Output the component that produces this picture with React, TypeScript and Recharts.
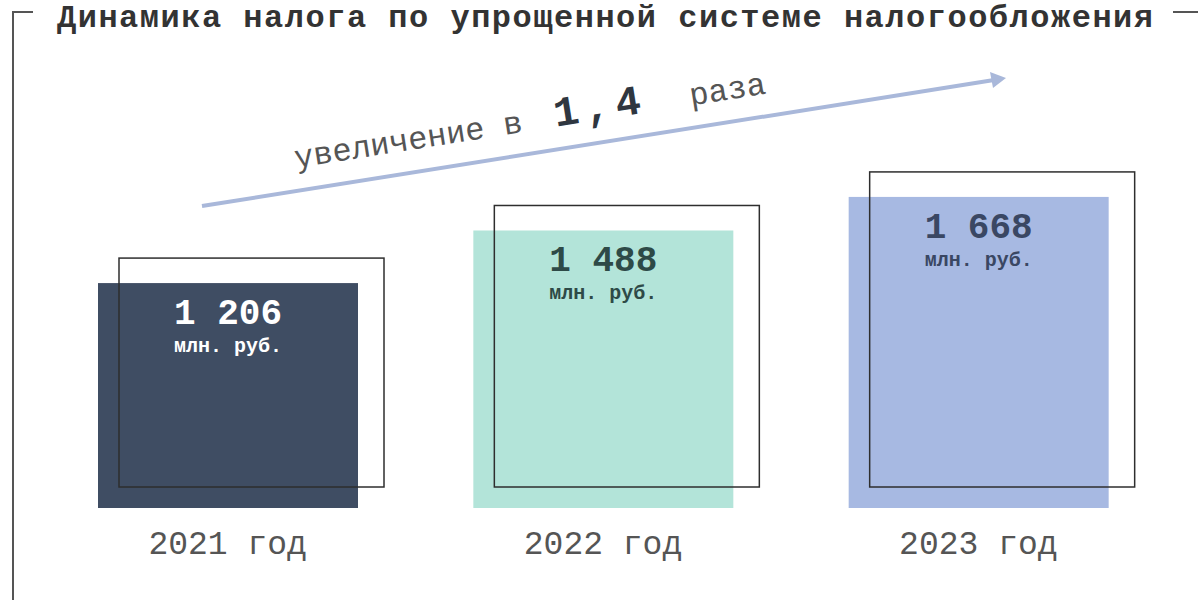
import React from "react";
import { BarChart, Bar, XAxis, YAxis } from "recharts";

// данные
const years = ["2021 год", "2022 год", "2023 год"];
const taxValues = [1206, 1488, 1668];
const unitLabel = "млн. руб.";
const chartTitle = "Динамика налога по упрощенной системе налогообложения";
const growthText = ["увеличение в", "1,4", "раза"];

const barFills = ["#3f4d63", "#b3e4d9", "#a7b9e2"];
const labelColors = ["#ffffff", "#2e4a47", "#3a4763"];

const data = years.map((year, i) => ({ year, value: taxValues[i] }));

const mono = "'Liberation Mono', 'Courier New', monospace";

const fmt = (v: number) => String(v).replace(/\B(?=(\d{3})+(?!\d))/g, " ");

function FramedBar(props: any) {
    const { x, y, width, height, index, value } = props;
    const cx = x + width / 2;
    const v = Array.isArray(value) ? value[1] : value;
    return (
        <g>
            <rect x={x} y={y} width={width} height={height} fill={barFills[index]} />
            <rect
                x={x + 21}
                y={y - 25}
                width={width + 5}
                height={height + 4}
                fill="none"
                stroke="#2e2e2e"
                strokeWidth={1.5}
            />
            <text
                x={cx}
                y={y + 41}
                textAnchor="middle"
                fontFamily={mono}
                fontWeight="bold"
                fontSize={36}
                fill={labelColors[index]}
            >
                {fmt(v)}
            </text>
            <text
                x={cx}
                y={y + 69}
                textAnchor="middle"
                fontFamily={mono}
                fontWeight="bold"
                fontSize={20}
                fill={labelColors[index]}
            >
                {unitLabel}
            </text>
        </g>
    );
}

function YearTick(props: any) {
    const { x, y, payload } = props;
    return (
        <text
            x={x}
            y={y + 38}
            textAnchor="middle"
            fontFamily={mono}
            fontSize={33}
            fill="#555"
        >
            {payload.value}
        </text>
    );
}

export default function App() {
    return (
        <div style={{ position: "absolute", left: 0, top: 0, width: 1198, height: 600, background: "#fff" }}>
            <BarChart
                width={1198}
                height={600}
                data={data}
                margin={{ top: 135, right: 32, left: 40, bottom: 0 }}
            >
                <YAxis hide domain={[0, 2000]} />
                <XAxis
                    dataKey="year"
                    axisLine={false}
                    tickLine={false}
                    height={92}
                    tick={<YearTick />}
                    interval={0}
                />
                <Bar
                    dataKey="value"
                    barSize={260}
                    shape={<FramedBar />}
                    isAnimationActive={false}
                />
            </BarChart>
            <svg
                width={1198}
                height={600}
                style={{ position: "absolute", left: 0, top: 0, pointerEvents: "none" }}
            >
                <polyline points="33,12 13,12 13,600" fill="none" stroke="#555" strokeWidth={2} />
                <line x1={1173} y1={12} x2={1198} y2={12} stroke="#555" strokeWidth={2} />
                <text
                    x={57}
                    y={27}
                    fontFamily={mono}
                    fontWeight="bold"
                    fontSize={32}
                    fill="#333"
                    textLength={1096}
                    lengthAdjust="spacing"
                >
                    {chartTitle}
                </text>
                <line x1={202} y1={206} x2={994} y2={80} stroke="#a9b8da" strokeWidth={4} />
                <polygon points="1006,78 990,72 993,88" fill="#a9b8da" />
                <g transform="rotate(-9, 296, 168)">
                    <text x={296} y={168} fontFamily={mono} fontSize={32} fill="#555">
                        {growthText[0]}
                    </text>
                    <text
                        x={559}
                        y={168}
                        fontFamily={mono}
                        fontWeight="bold"
                        fontSize={42}
                        fill="#2f3640"
                        letterSpacing={6}
                    >
                        {growthText[1]}
                    </text>
                    <text x={696} y={168} fontFamily={mono} fontSize={32} fill="#555">
                        {growthText[2]}
                    </text>
                </g>
            </svg>
        </div>
    );
}
